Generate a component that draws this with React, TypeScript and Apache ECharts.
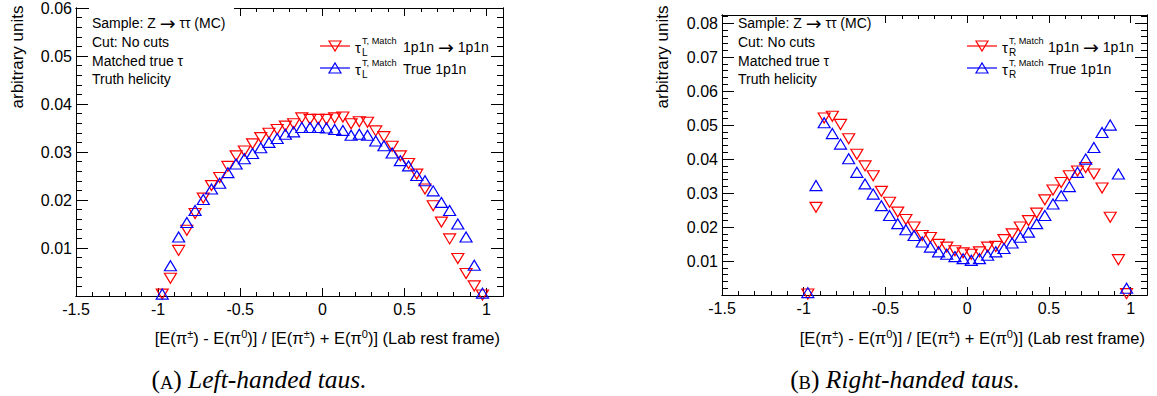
import React, { useEffect, useRef } from "react";
import * as echarts from "echarts";

// ---------- data ----------
const BIN_CENTERS = [
  -0.975, -0.925, -0.875, -0.825, -0.775, -0.725, -0.675, -0.625, -0.575, -0.525,
  -0.475, -0.425, -0.375, -0.325, -0.275, -0.225, -0.175, -0.125, -0.075, -0.025,
  0.025, 0.075, 0.125, 0.175, 0.225, 0.275, 0.325, 0.375, 0.425, 0.475,
  0.525, 0.575, 0.625, 0.675, 0.725, 0.775, 0.825, 0.875, 0.925, 0.975,
];

const LEFT_MATCH = [
  0.0004, 0.0037, 0.0095, 0.0137, 0.0172, 0.0204, 0.0230, 0.0247, 0.0270, 0.0292,
  0.0302, 0.0317, 0.0330, 0.0339, 0.0347, 0.0354, 0.0359, 0.0371, 0.0368, 0.0368,
  0.0368, 0.0371, 0.0373, 0.0359, 0.0363, 0.0362, 0.0344, 0.0332, 0.0312, 0.0292,
  0.0276, 0.0254, 0.0223, 0.0188, 0.0154, 0.0119, 0.0078, 0.0047, 0.0021, 0.0002,
];
const LEFT_TRUE = [
  0.0004, 0.0063, 0.0123, 0.0153, 0.0178, 0.0201, 0.0223, 0.0235, 0.0257, 0.0275,
  0.0286, 0.0297, 0.0309, 0.0320, 0.0328, 0.0337, 0.0342, 0.0351, 0.0351, 0.0351,
  0.0350, 0.0347, 0.0345, 0.0335, 0.0337, 0.0335, 0.0323, 0.0313, 0.0298, 0.0282,
  0.0271, 0.0251, 0.0240, 0.0219, 0.0195, 0.0178, 0.0150, 0.0123, 0.0064, 0.0006,
];
const RIGHT_MATCH = [
  0.0003, 0.0258, 0.0521, 0.0526, 0.0502, 0.0460, 0.0414, 0.0380, 0.0351, 0.0305,
  0.0273, 0.0244, 0.0222, 0.0200, 0.0175, 0.0169, 0.0149, 0.0141, 0.0130, 0.0124,
  0.0120, 0.0127, 0.0141, 0.0143, 0.0163, 0.0180, 0.0200, 0.0219, 0.0241, 0.0280,
  0.0309, 0.0331, 0.0351, 0.0365, 0.0375, 0.0356, 0.0315, 0.0229, 0.0104, 0.0004,
];
const RIGHT_TRUE = [
  0.0007, 0.0322, 0.0507, 0.0475, 0.0444, 0.0401, 0.0361, 0.0327, 0.0297, 0.0263,
  0.0234, 0.0210, 0.0192, 0.0175, 0.0156, 0.0141, 0.0127, 0.0120, 0.0113, 0.0107,
  0.0102, 0.0107, 0.0117, 0.0127, 0.0137, 0.0153, 0.0170, 0.0185, 0.0210, 0.0234,
  0.0268, 0.0292, 0.0319, 0.0361, 0.0400, 0.0434, 0.0478, 0.0500, 0.0356, 0.0020,
];

const X_TICKS = [-1.5, -1, -0.5, 0, 0.5, 1];
const Y_TICKS_LEFT = [0.01, 0.02, 0.03, 0.04, 0.05, 0.06];
const Y_TICKS_RIGHT = [0.01, 0.02, 0.03, 0.04, 0.05, 0.06, 0.07, 0.08];
const X_MIN = -1.5;
const X_MAX = 1.1;
const Y_MAX_LEFT = 0.06;
const Y_MAX_RIGHT = 0.0824;

const INFO_LINES = ["Sample: Z \u2192 \u03c4\u03c4 (MC)", "Cut: No cuts", "Matched true \u03c4", "Truth helicity"];
const LEGEND_MATCH = "1p1n \u2192 1p1n";
const LEGEND_TRUE = "True 1p1n";
const Y_TITLE = "arbitrary units";
const CAPTION_LEFT = "Left-handed taus.";
const CAPTION_RIGHT = "Right-handed taus.";

const FONT = "'Liberation Sans', Arial, Helvetica, sans-serif";
const ARROW_FONT = "'DejaVu Sans', sans-serif";
const SERIF = "'Liberation Serif', 'Times New Roman', serif";
const RED = "#ff0000";
const BLUE = "#0000ff";

function makeXAxes(gridIndex: number) {
  const common: any = {
    type: "value",
    gridIndex,
    min: X_MIN,
    max: X_MAX,
    splitLine: { show: false },
    axisLine: { show: true, onZero: false, lineStyle: { color: "#000", width: 1 } },
  };
  const fmt = (v: number) => {
    const t = X_TICKS.find((k) => Math.abs(k - v) < 1e-7);
    return t === undefined ? "" : String(t);
  };
  return [
    {
      ...common,
      position: "bottom",
      interval: 0.5,
      axisTick: { show: true, inside: true, length: 8, lineStyle: { color: "#000" } },
      axisLabel: { show: true, margin: 5, color: "#000", fontFamily: FONT, fontSize: 16, formatter: fmt, showMaxLabel: false },
    },
    {
      ...common,
      position: "bottom",
      interval: 0.1,
      axisTick: { show: true, inside: true, length: 4, lineStyle: { color: "#000" } },
      axisLabel: { show: false },
    },
    {
      ...common,
      position: "top",
      interval: 0.5,
      axisTick: { show: true, inside: true, length: 8, lineStyle: { color: "#000" } },
      axisLabel: { show: false },
    },
    {
      ...common,
      position: "top",
      interval: 0.1,
      axisTick: { show: true, inside: true, length: 4, lineStyle: { color: "#000" } },
      axisLabel: { show: false },
    },
  ];
}

function makeYAxes(gridIndex: number, yMax: number, ticks: number[]) {
  const common: any = {
    type: "value",
    gridIndex,
    min: 0,
    max: yMax,
    splitLine: { show: false },
    axisLine: { show: true, onZero: false, lineStyle: { color: "#000", width: 1 } },
  };
  const fmt = (v: number) => {
    const t = ticks.find((k) => Math.abs(k - v) < 1e-7);
    return t === undefined ? "" : t.toFixed(2);
  };
  return [
    {
      ...common,
      position: "left",
      interval: 0.01,
      axisTick: { show: true, inside: true, length: 12, lineStyle: { color: "#000" } },
      axisLabel: { show: true, margin: 4, color: "#000", fontFamily: FONT, fontSize: 16, formatter: fmt, showMaxLabel: true, showMinLabel: false },
    },
    {
      ...common,
      position: "left",
      interval: 0.002,
      axisTick: { show: true, inside: true, length: 6, lineStyle: { color: "#000" } },
      axisLabel: { show: false },
    },
    {
      ...common,
      position: "right",
      interval: 0.01,
      axisTick: { show: true, inside: true, length: 12, lineStyle: { color: "#000" } },
      axisLabel: { show: false },
    },
    {
      ...common,
      position: "right",
      interval: 0.002,
      axisTick: { show: true, inside: true, length: 6, lineStyle: { color: "#000" } },
      axisLabel: { show: false },
    },
  ];
}

function pairs(values: number[]) {
  return BIN_CENTERS.map((x, i) => [x, values[i]]);
}

function scatter(name: string, values: number[], axisIndex: number, color: string, down: boolean) {
  return {
    name,
    type: "scatter",
    xAxisIndex: axisIndex,
    yAxisIndex: axisIndex,
    data: pairs(values),
    symbol: "triangle",
    symbolSize: [12, 10],
    symbolRotate: down ? 180 : 0,
    clip: false,
    itemStyle: { color: "rgba(0,0,0,0)", borderColor: color, borderWidth: 1.2, opacity: 1 },
    emphasis: { disabled: true },
  };
}

// text with a wide arrow glyph rendered in a fallback font
function txt(text: string, x: number, y: number, size: number) {
  const parts = text.split("\u2192");
  let rt = "";
  parts.forEach((p, i) => {
    if (i > 0) rt += "{a|\u2192}";
    if (p.length) rt += `{t|${p}}`;
  });
  return {
    type: "text",
    x,
    y,
    z: 10,
    style: {
      text: rt,
      align: "left",
      verticalAlign: "middle",
      rich: {
        t: { fontFamily: FONT, fontSize: size, fill: "#000" },
        a: { fontFamily: ARROW_FONT, fontSize: size * 1.35, fill: "#000" },
      },
    },
  };
}

function tri(cx: number, cy: number, down: boolean, color: string) {
  const pts = down
    ? [[cx - 6, cy - 5], [cx + 6, cy - 5], [cx, cy + 5]]
    : [[cx - 6, cy + 5], [cx + 6, cy + 5], [cx, cy - 5]];
  return { type: "polygon", z: 10, shape: { points: pts }, style: { fill: "none", stroke: color, lineWidth: 1.2 } };
}

function legendBlock(lineX: number, tauX: number, textX: number, sub: string) {
  const els: any[] = [];
  const rows = [
    { y: 46, color: RED, down: true, label: LEGEND_MATCH },
    { y: 68, color: BLUE, down: false, label: LEGEND_TRUE },
  ];
  rows.forEach((r) => {
    els.push({ type: "line", z: 10, shape: { x1: lineX, y1: r.y, x2: lineX + 30, y2: r.y }, style: { stroke: r.color, lineWidth: 1.2 } });
    els.push(tri(lineX + 15, r.y, r.down, r.color));
    els.push(txt("\u03c4", tauX, r.y + 1, 15));
    els.push(txt(sub, tauX + 7, r.y + 6, 10));
    els.push(txt("T, Match", tauX + 7, r.y - 5, 9.2));
    els.push(txt(r.label, textX, r.y + 1, 14));
  });
  return els;
}

function xTitle(right: number) {
  return {
    type: "text",
    x: right,
    y: 338,
    style: {
      text: "{n|[E(\u03c0}{s|\u00b1}{n|) - E(\u03c0}{s|0}{n|)] / [E(\u03c0}{s|\u00b1}{n|) + E(\u03c0}{s|0}{n|)] (Lab rest frame)}",
      align: "right",
      verticalAlign: "middle",
      rich: {
        n: { fontFamily: FONT, fontSize: 16.5, fill: "#000", lineHeight: 20 },
        s: { fontFamily: FONT, fontSize: 11, fill: "#000", verticalAlign: "top", lineHeight: 12 },
      },
    },
  };
}

function caption(cx: number, letter: string, text: string) {
  return {
    type: "text",
    x: cx,
    y: 379,
    style: {
      text: `{n|(}{sc|${letter}}{n|) }{it|${text}}`,
      align: "center",
      verticalAlign: "middle",
      rich: {
        n: { fontFamily: SERIF, fontSize: 25.5, fill: "#000", lineHeight: 26 },
        sc: { fontFamily: SERIF, fontSize: 18.5, fill: "#000", lineHeight: 21, verticalAlign: "bottom" },
        it: { fontFamily: SERIF, fontSize: 25.5, fontStyle: "italic", fill: "#000", lineHeight: 26 },
      },
    },
  };
}

export default function App() {
  const ref = useRef<HTMLDivElement>(null);
  useEffect(() => {
    if (!ref.current) return;
    const chart = echarts.init(ref.current, null, { renderer: "svg" });
    const graphic: any[] = [];
    // white info boxes (cover the frame ticks behind the info text, as in the original)
    graphic.push({ type: "rect", z: 9, shape: { x: 89, y: 7, width: 145, height: 82 }, style: { fill: "#fff" } });
    graphic.push({ type: "rect", z: 9, shape: { x: 735, y: 16, width: 145, height: 73 }, style: { fill: "#fff" } });
    const ys = [23, 42, 61, 79];
    INFO_LINES.forEach((t, i) => {
      graphic.push(txt(t, 92, ys[i], 14));
      graphic.push(txt(t, 738, ys[i], 14));
    });
    graphic.push(...legendBlock(320, 355, 403, "L"));
    graphic.push(...legendBlock(967, 1002, 1048, "R"));
    graphic.push({
      type: "text", x: 17, y: 57, rotation: Math.PI / 2,
      style: { text: Y_TITLE, fontFamily: FONT, fontSize: 17, fill: "#000", align: "center", verticalAlign: "middle" },
    });
    graphic.push({
      type: "text", x: 662, y: 57, rotation: Math.PI / 2,
      style: { text: Y_TITLE, fontFamily: FONT, fontSize: 17, fill: "#000", align: "center", verticalAlign: "middle" },
    });
    graphic.push(xTitle(500));
    graphic.push(xTitle(1145));
    graphic.push(caption(259, "A", CAPTION_LEFT));
    graphic.push(caption(905, "B", CAPTION_RIGHT));

    const option: any = {
      animation: false,
      backgroundColor: "#fff",
      textStyle: { fontFamily: FONT },
      grid: [
        { left: 76, top: 6, width: 427, height: 290, containLabel: false },
        { left: 722, top: 15, width: 425, height: 280, containLabel: false },
      ],
      xAxis: [...makeXAxes(0), ...makeXAxes(1)],
      yAxis: [...makeYAxes(0, Y_MAX_LEFT, Y_TICKS_LEFT), ...makeYAxes(1, Y_MAX_RIGHT, Y_TICKS_RIGHT)],
      series: [
        scatter("tauL match", LEFT_MATCH, 0, RED, true),
        scatter("tauL true", LEFT_TRUE, 0, BLUE, false),
        scatter("tauR match", RIGHT_MATCH, 4, RED, true),
        scatter("tauR true", RIGHT_TRUE, 4, BLUE, false),
      ],
      graphic,
    };
    chart.setOption(option);
    return () => chart.dispose();
  }, []);
  return <div ref={ref} style={{ position: "absolute", left: 0, top: 0, width: 1157, height: 396 }} />;
}
